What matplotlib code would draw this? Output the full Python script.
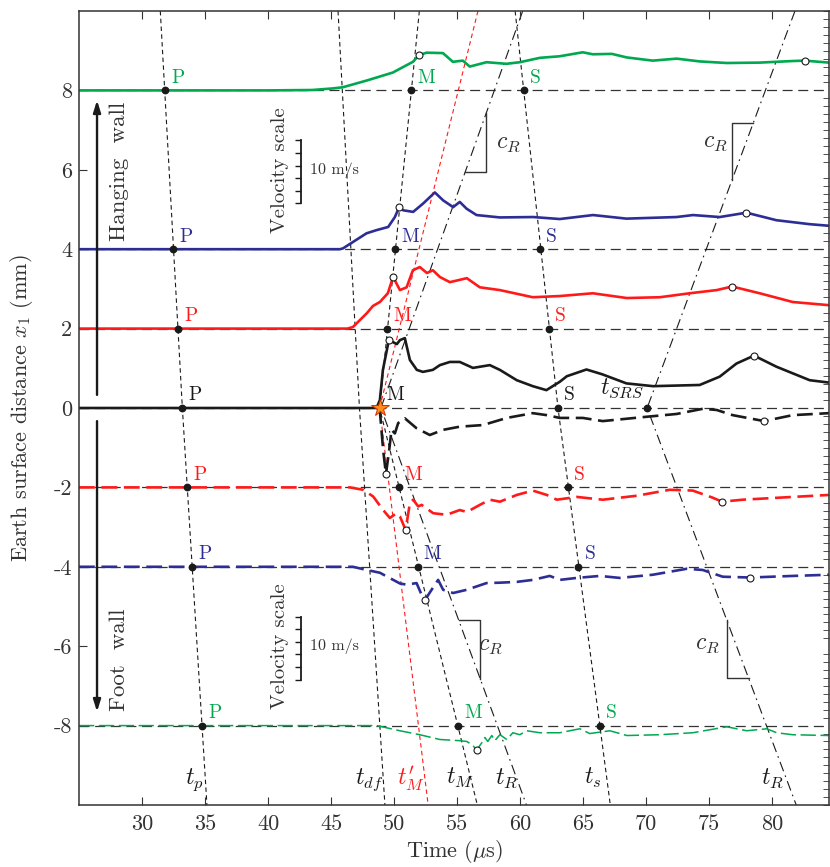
import numpy as np
import matplotlib
matplotlib.use('Agg')
import matplotlib.pyplot as plt
from matplotlib.ticker import MultipleLocator

plt.rcParams['font.family'] = ['cmr10', 'DejaVu Serif']
plt.rcParams['mathtext.fontset'] = 'cm'
plt.rcParams['axes.unicode_minus'] = False

GREEN = '#00a84f'
BLUE = '#2d2d96'
RED = '#ff1a1a'
BLACK = '#1a1a1a'

# stations along the surface (mm) and their trace colours
stations = [8, 4, 2, 0, -2, -4, -8]
station_colors = [GREEN, BLUE, RED, BLACK, RED, BLUE, GREEN]

# picked arrival times (us) at each station
t_P = [31.8, 32.45, 32.83, 33.17, 33.54, 33.94, 34.75]
t_M = [51.37, 50.1, 49.47, 48.85, 50.35, 51.86, 55.08]
t_S = [60.27, 61.56, 62.25, 63.0, 63.8, 64.6, 66.3]

# guide lines, given at x1 = 10, 0, -10
guide_x = [10, 0, -10]
tp_line = [31.45, 33.2, 35.15]
tm_line = [52.0, 48.85, 56.6]
ts_line = [59.6, 63.0, 67.15]
tdf_line = [45.55, 47.25, 49.27]
tm_prime_line = [56.65, 48.85, 52.7]
tr1_line = [60.2, 48.95, 60.5]
tr2_line = [81.8, 70.07, 81.9]

star_t = 48.85
t_srs = 70.07

# velocity traces (plotted on station baseline)
g8_t = [25, 40, 43.5, 45.14, 45.94, 47.84, 49.9, 51.49, 51.99, 52.57, 53.87, 54.66, 55.45, 56.0, 57.33, 58.92,
        59.97, 61.56, 63.14, 64.96, 65.76, 67.27, 68.46, 70.52, 72.42, 74.24, 76.39, 79.0, 81.62, 82.57, 84.5]
g8_y = [8.0, 8.0, 8.01, 8.05, 8.08, 8.25, 8.45, 8.72, 8.89, 8.95, 8.94, 8.72, 8.75, 8.6, 8.71, 8.67,
        8.71, 8.82, 8.86, 8.96, 8.91, 8.92, 8.83, 8.75, 8.8, 8.73, 8.69, 8.7, 8.74, 8.75, 8.7]

b4_t = [25, 45.7, 45.94, 47.81, 48.6, 49.53, 50.06, 50.4, 50.72, 51.51, 52.3, 53.23, 53.89, 54.68, 55.21,
        55.75, 56.54, 58.39, 61.03, 63.14, 65.78, 68.43, 72.4, 73.71, 75.83, 77.95, 80.33, 82.97, 84.5]
b4_y = [4.0, 4.0, 4.02, 4.4, 4.48, 4.56, 4.81, 5.06, 4.98, 4.94, 5.15, 5.43, 5.23, 5.06, 5.19,
        5.02, 4.86, 4.8, 4.81, 4.76, 4.86, 4.77, 4.81, 4.86, 4.81, 4.92, 4.73, 4.63, 4.59]

r2_t = [25, 46.3, 46.73, 47.84, 48.32, 48.87, 49.5, 49.92, 50.46, 50.99, 51.49, 52.04, 52.6, 53.07, 53.63,
        54.42, 55.77, 56.8, 58.39, 61.0, 63.14, 65.76, 68.46, 71.07, 73.45, 75.59, 76.81, 79.0, 81.62, 84.5]
r2_y = [2.0, 2.0, 2.04, 2.39, 2.57, 2.67, 2.89, 3.3, 2.97, 3.04, 3.47, 3.55, 3.4, 3.47, 3.3,
        3.17, 3.27, 3.04, 2.97, 2.79, 2.82, 2.89, 2.77, 2.79, 2.89, 2.97, 3.06, 2.89, 2.67, 2.59]

k0p_t = [25, 48.6, 48.87, 49.11, 49.58, 49.9, 50.22, 50.46, 50.85, 51.25, 51.8, 52.28, 53.07, 53.63, 54.42,
         55.21, 56.25, 57.59, 58.39, 59.73, 61.0, 62.08, 63.14, 63.7, 65.26, 66.5, 68.43, 70.54, 74.24,
         75.83, 77.16, 78.55, 80.33, 82.97, 84.5]
k0p_y = [0.0, 0.0, 0.2, 0.96, 1.71, 1.66, 1.61, 1.71, 1.76, 1.21, 0.96, 0.91, 0.96, 1.08, 1.16,
         1.16, 1.01, 1.08, 0.96, 0.7, 0.55, 0.45, 0.66, 0.8, 0.97, 0.85, 0.62, 0.55, 0.58,
         0.79, 1.12, 1.32, 1.04, 0.7, 0.64]

k0m_t = [48.85, 49.13, 49.35, 49.61, 49.79, 50.06, 50.32, 50.85, 51.78, 52.83, 53.89, 55.21, 57.04, 58.94,
         61.0, 62.11, 63.14, 64.97, 66.55, 69.73, 72.42, 74.48, 75.59, 76.86, 79.35, 81.62, 84.5]
k0m_y = [0.0, -1.06, -1.66, -1.06, -0.55, -0.64, -0.38, -0.26, -0.51, -0.68, -0.55, -0.47, -0.43, -0.25,
         -0.13, -0.18, -0.25, -0.25, -0.33, -0.23, -0.15, -0.02, -0.05, -0.18, -0.33, -0.18, -0.13]

r2m_t = [25, 46.49, 47.55, 48.34, 49.13, 49.66, 50.19, 50.46, 50.91, 51.25, 51.51, 51.91, 52.18, 53.1,
         54.16, 55.21, 55.77, 56.8, 57.59, 58.39, 59.73, 61.0, 62.11, 62.91, 64.49, 66.55, 69.25, 71.87,
         73.69, 75.28, 76.01, 77.65, 81.62, 84.5]
r2m_y = [-2.0, -2.0, -2.06, -2.23, -2.57, -2.77, -2.65, -2.73, -3.07, -2.4, -2.31, -2.48, -2.44, -2.65,
         -2.69, -2.57, -2.62, -2.44, -2.31, -2.36, -2.19, -2.08, -2.19, -2.31, -2.24, -2.31, -2.21, -2.06,
         -2.08, -2.26, -2.36, -2.31, -2.24, -2.19]

b4m_t = [25, 46.73, 47.84, 48.87, 50.46, 50.99, 51.78, 52.2, 52.44, 52.97, 53.49, 53.89, 54.68, 55.75,
         57.33, 58.39, 59.73, 61.0, 62.35, 63.14, 64.49, 66.32, 67.9, 70.52, 73.21, 74.48, 76.07, 78.27,
         81.62, 84.5]
b4m_y = [-4.0, -4.0, -4.08, -4.15, -4.42, -4.45, -4.41, -4.72, -4.84, -4.58, -4.33, -4.58, -4.66, -4.58,
         -4.41, -4.4, -4.38, -4.33, -4.23, -4.33, -4.28, -4.23, -4.28, -4.2, -4.05, -4.08, -4.25, -4.27,
         -4.23, -4.2]

g8m_t = [25, 48.63, 50.46, 52.04, 53.63, 55.21, 55.77, 56.25, 56.54, 56.96, 57.2, 57.43, 57.75, 57.99,
         58.39, 58.94, 59.42, 59.97, 60.53, 61.56, 63.14, 64.73, 65.52, 67.11, 68.46, 71.07, 73.69, 76.39,
         77.97, 79.56, 80.35, 81.62, 84.5]
g8m_y = [-8.0, -8.0, -8.13, -8.23, -8.35, -8.38, -8.4, -8.5, -8.62, -8.43, -8.3, -8.4, -8.25, -8.38,
         -8.23, -8.35, -8.18, -8.23, -8.13, -8.18, -8.18, -8.08, -8.2, -8.13, -8.25, -8.23, -8.18, -8.03,
         -8.13, -8.08, -8.18, -8.23, -8.25]

# open-circle peak picks on the traces
peak_t = [51.99, 82.57, 50.4, 77.95, 49.92, 76.81, 49.58, 78.55, 49.35, 79.35, 50.91, 76.01, 52.44, 78.27, 56.54]
peak_y = [8.89, 8.75, 5.06, 4.92, 3.3, 3.06, 1.71, 1.32, -1.66, -0.33, -3.07, -2.36, -4.84, -4.27, -8.62]

# velocity scale bar: 10 m/s shown as 1.58 mm, ticks every 2 m/s
vel_bar_t = 42.6
vel_bar_len = 1.58
vel_bar_ticks = [0, 2, 4, 6, 8, 10]


def line_t(ts, x1):
    # interpolate a guide line (given at x1 = 10, 0, -10) at level x1
    return np.interp(x1, guide_x[::-1], ts[::-1])


fig = plt.figure(figsize=(8.3, 8.67), dpi=100)
ax = fig.add_axes([79 / 830, 62 / 867, 750 / 830, 794 / 867])

# horizontal station baselines
for s in stations:
    ax.plot([25, 84.5], [s, s], color='#333333', lw=0.9, ls=(0, (8, 4.5)), zorder=1)

# arrival guide lines
guide = dict(color=BLACK, lw=0.8, ls=(0, (4, 3)), zorder=1)
for ts in [tp_line, tm_line, ts_line, tdf_line]:
    ax.plot(ts, guide_x, **guide)
ax.plot(tm_prime_line, guide_x, color=RED, lw=0.8, ls=(0, (4, 3)), zorder=1)
for ts in [tr1_line, tr2_line]:
    ax.plot(ts, guide_x, color=BLACK, lw=0.8, ls=(0, (9, 4, 1.5, 4)), zorder=1)

# velocity traces
solid = dict(lw=1.9, zorder=2, solid_joinstyle='round', solid_capstyle='round')
dashed = dict(lw=1.9, zorder=2, ls=(0, (6, 2.5)), dash_joinstyle='round')
ax.plot(g8_t, g8_y, color=GREEN, **solid)
ax.plot(b4_t, b4_y, color=BLUE, **solid)
ax.plot(r2_t, r2_y, color=RED, **solid)
ax.plot(k0p_t, k0p_y, color=BLACK, **solid)
ax.plot(k0m_t, k0m_y, color=BLACK, **dashed)
ax.plot(r2m_t, r2m_y, color=RED, **dashed)
ax.plot(b4m_t, b4m_y, color=BLUE, **dashed)
ax.plot(g8m_t, g8m_y, color=GREEN, lw=1.1, ls=(0, (10, 3)), dash_joinstyle='round', zorder=2)

# arrival picks
for s, c, tp, tm, tsv in zip(stations, station_colors, t_P, t_M, t_S):
    ax.plot([tp, tsv], [s, s], 'o', color=BLACK, ms=4.6, zorder=4)
    if s != 0:
        ax.plot(tm, s, 'o', color=BLACK, ms=4.6, zorder=4)
    for t, lab in [(tp, 'P'), (tm, 'M'), (tsv, 'S')]:
        ax.annotate(lab, (t, s), xytext=(4.5, 9), textcoords='offset points',
                    ha='left', va='center', fontsize=14, color=c, zorder=6)

ax.plot(t_srs, 0, 'o', color=BLACK, ms=4.6, zorder=4)
ax.plot(peak_t, peak_y, 'o', mfc='white', mec=BLACK, mew=0.8, ms=5, zorder=4)
ax.plot(star_t, 0, marker='*', color='#ff8c1a', mec='#cc3300', mew=0.7, ms=13, zorder=5)

# c_R slope triangles on the Rayleigh lines
tri_specs = [(tr1_line, 5.94, 7.42, 'outer', 58.1, 6.54),
             (tr2_line, 5.74, 7.17, 'inner', 74.5, 6.57),
             (tr1_line, -5.35, -6.82, 'outer', 56.65, -6.09),
             (tr2_line, -5.35, -6.80, 'inner', 73.85, -6.07)]
for ts, a, b, kind, lx, ly in tri_specs:
    pa = (line_t(ts, a), a)
    pb = (line_t(ts, b), b)
    corner = (pb[0], a) if kind == 'outer' else (pa[0], b)
    ax.plot([pa[0], corner[0], pb[0]], [pa[1], corner[1], pb[1]], color='#333333', lw=1.0, zorder=2)
    ax.text(lx, ly, r'$c_R$', fontsize=17, color='#333333', ha='left', va='baseline')

# arrival-line labels along the bottom
bottom_labels = [(33.4, r'$t_p$', BLACK), (46.9, r'$t_{df}$', BLACK), (50.2, r"$t^{\prime}_{M}$", RED),
                 (54.15, r'$t_M$', BLACK), (58.0, r'$t_R$', BLACK), (65.1, r'$t_s$', BLACK),
                 (79.1, r'$t_R$', BLACK)]
for x, lab, c in bottom_labels:
    ax.text(x, -9.48, lab, fontsize=17, color=c, ha='left', va='baseline')
ax.text(66.3, 0.35, r'$t_{SRS}$', fontsize=17, color=BLACK, ha='left', va='baseline')

# velocity scale bars
for y0, ytxt in [(5.16, 6.0), (-6.84, -6.0)]:
    ax.plot([vel_bar_t, vel_bar_t], [y0, y0 + vel_bar_len], color=BLACK, lw=1.3, zorder=3)
    ticks_y = [y0 + vel_bar_len * v / 10 for v in vel_bar_ticks]
    ax.plot([vel_bar_t] * len(ticks_y), ticks_y, ls='none', marker=0, ms=4, mew=1.0, color=BLACK)
    ax.text(vel_bar_t - 1.65, ytxt, 'Velocity scale', rotation=90, fontsize=15, color='#333333',
            ha='center', va='center')
    ax.text(vel_bar_t + 0.75, ytxt, '10 m/s', fontsize=11.5, color='#333333', ha='left', va='center')

# hanging wall / foot wall arrows
arrow = dict(arrowstyle='-|>,head_length=0.7,head_width=0.22', lw=1.7, color=BLACK, shrinkA=0, shrinkB=0)
ax.annotate('', xy=(26.43, 7.75), xytext=(26.43, 0.33), arrowprops=arrow)
ax.annotate('', xy=(26.43, -7.65), xytext=(26.43, -0.33), arrowprops=arrow)
ax.text(28.2, 5.95, 'Hanging  wall', rotation=90, fontsize=16.5, color='#333333', ha='center', va='center')
ax.text(28.2, -6.35, 'Foot  wall', rotation=90, fontsize=16.5, color='#333333', ha='center', va='center')

ax.set_xlim(25, 84.5)
ax.set_ylim(-10, 10)
ax.set_xticks(range(30, 85, 5))
ax.set_xticklabels([str(v) for v in range(30, 85, 5)])
ax.set_yticks(range(-8, 10, 2))
ax.set_yticklabels([str(v) for v in range(-8, 10, 2)])
ax.yaxis.set_minor_locator(MultipleLocator(0.2))
ax.tick_params(which='major', direction='in', length=6, width=0.8, top=True, right=False,
               labelsize=16, colors='#333333', pad=7)
ax.tick_params(axis='y', which='major', pad=5)
ax.tick_params(axis='y', which='minor', direction='in', length=4, width=0.6, left=False, right=True,
               colors='#333333')
for sp in ax.spines.values():
    sp.set_color('#333333')
    sp.set_linewidth(1.1)

ax.set_xlabel(r'Time ($\mu$s)', fontsize=16, color='#333333')
ax.xaxis.set_label_coords(0.501, -0.041)
ax.set_ylabel(r'Earth surface distance $x_1$ (mm)', fontsize=16, color='#333333')
ax.yaxis.set_label_coords(-0.058, 0.5)

fig.savefig('out.png', dpi=100)
